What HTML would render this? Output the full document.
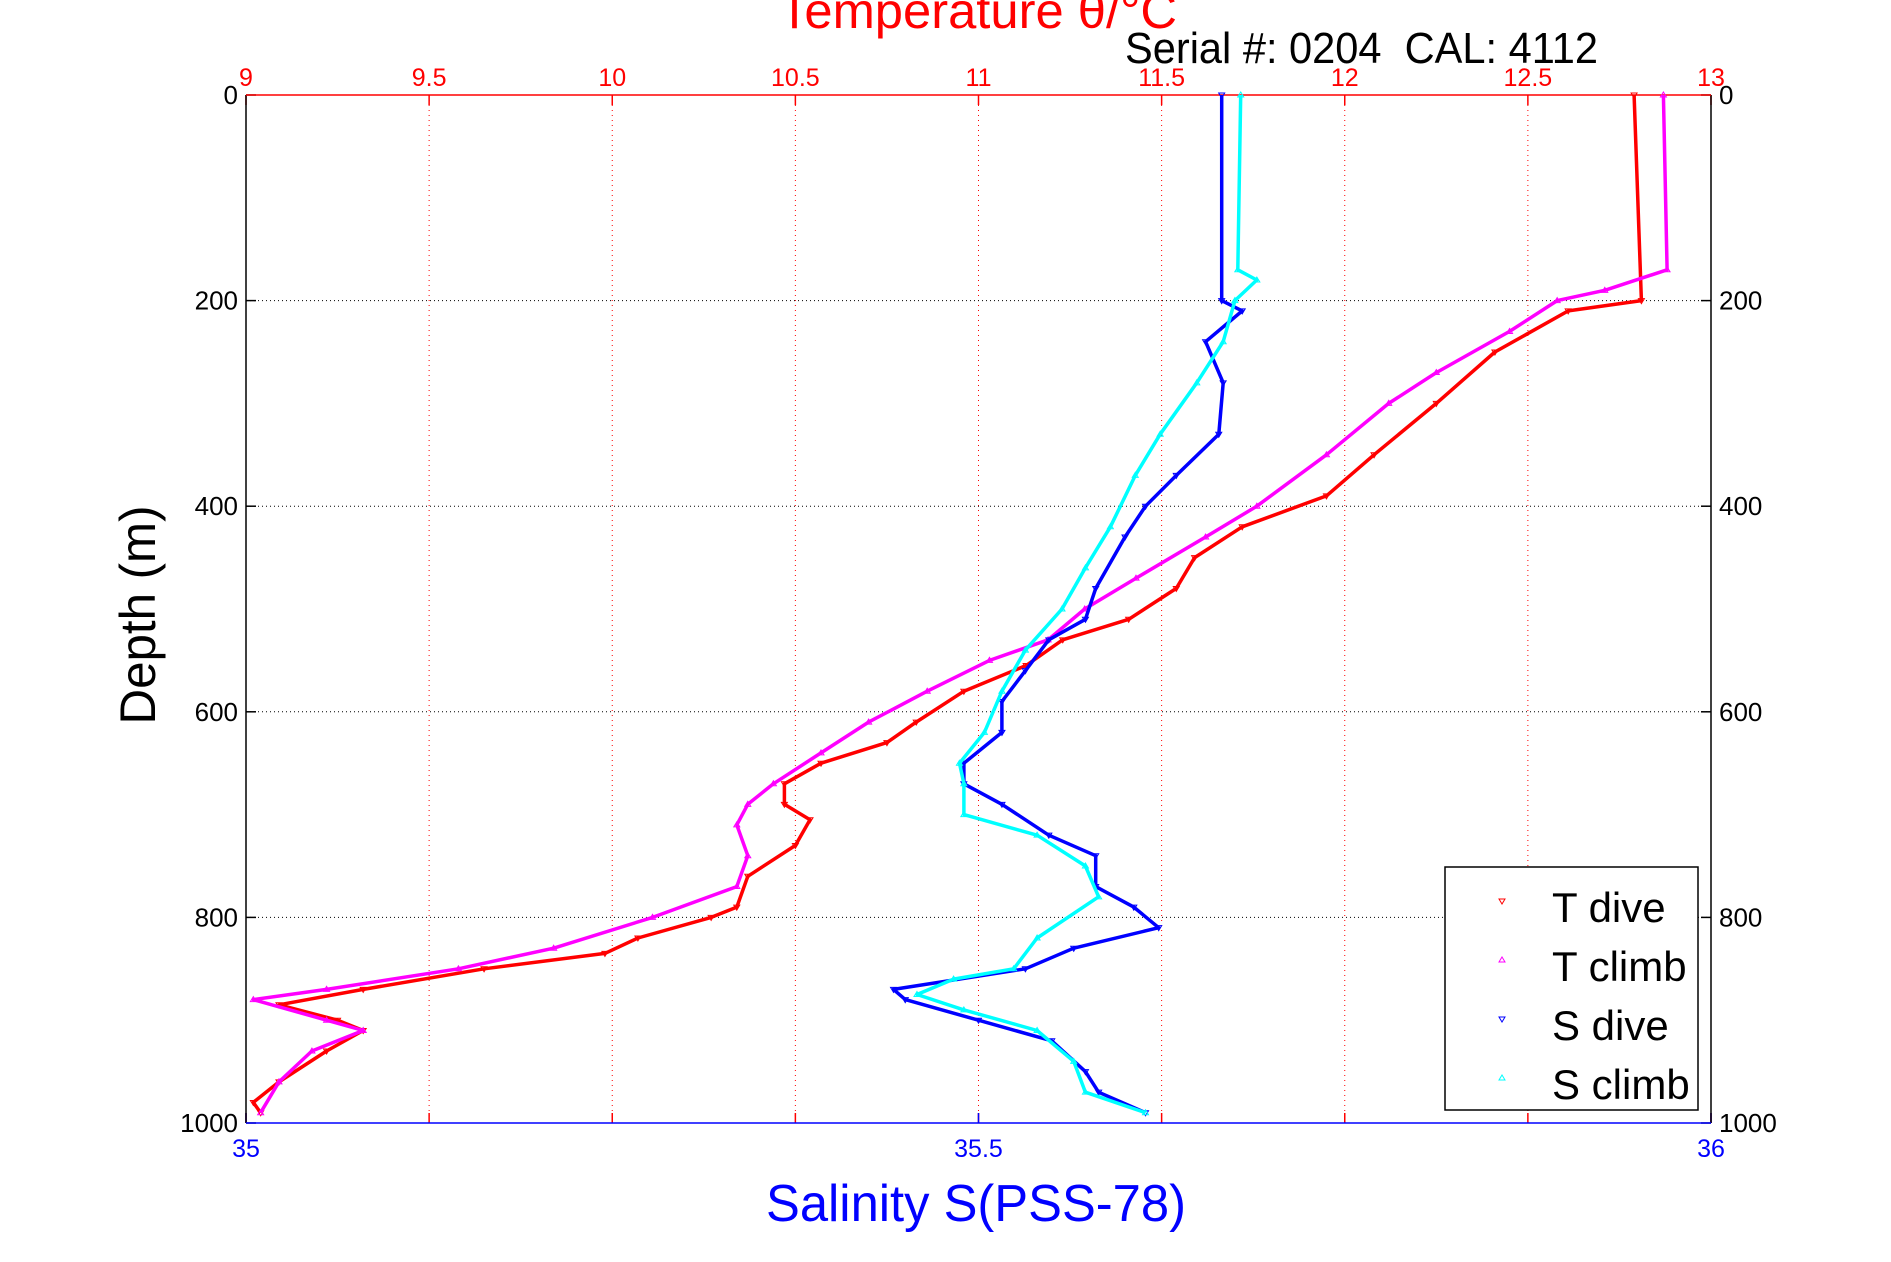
<!DOCTYPE html>
<html><head><meta charset="utf-8"><style>
html,body{margin:0;padding:0;background:#fff;}
svg{display:block;font-family:"Liberation Sans",sans-serif;}
</style></head><body>
<svg id="chart" width="1891" height="1262" viewBox="0 0 1891 1262">
<g id="grid"></g>
<g id="axes"></g>
<g id="series"></g>
<text x="779" y="28" font-size="50" fill="#ff0000" textLength="398" lengthAdjust="spacingAndGlyphs">Temperature θ/°C</text>
<text x="1125" y="63" font-size="44" fill="#000" textLength="473" lengthAdjust="spacingAndGlyphs" xml:space="preserve">Serial #: 0204  CAL: 4112</text>
<text x="0" y="0" transform="translate(155,615) rotate(-90)" text-anchor="middle" font-size="50" fill="#000" textLength="219" lengthAdjust="spacingAndGlyphs">Depth (m)</text>
<text x="766" y="1221" font-size="52" fill="#0000ff" textLength="420" lengthAdjust="spacingAndGlyphs">Salinity S(PSS-78)</text>
<g id="legend">
<rect x="1445" y="867" width="253" height="243" fill="#fff" stroke="#000" stroke-width="1.5"/>
</g>
</svg>
<script>
const tempTicks=[9,9.5,10,10.5,11,11.5,12,12.5,13];
const salTicks=[35,35.5,36];
const depthTicks=[0,200,400,600,800,1000];
const tDiveDepth=[0,200,210,250,300,350,390,420,450,480,510,530,555,580,610,630,650,670,690,705,730,760,790,800,820,835,850,870,885,900,910,930,960,980,990];
const tDiveVal=[12.79,12.81,12.61,12.41,12.25,12.08,11.95,11.72,11.59,11.54,11.41,11.23,11.13,10.96,10.83,10.75,10.57,10.47,10.47,10.54,10.50,10.37,10.34,10.27,10.07,9.98,9.65,9.32,9.09,9.25,9.32,9.22,9.09,9.02,9.04];
const tClimbDepth=[0,170,190,200,230,270,300,350,400,430,470,500,530,550,580,610,640,670,690,710,740,770,800,830,850,870,880,900,910,930,960,990];
const tClimbVal=[12.87,12.88,12.71,12.58,12.45,12.25,12.12,11.95,11.76,11.62,11.43,11.29,11.19,11.03,10.86,10.70,10.57,10.44,10.37,10.34,10.37,10.34,10.11,9.84,9.58,9.22,9.02,9.22,9.32,9.18,9.09,9.04];
const sDiveDepth=[0,200,210,240,280,330,370,400,430,480,510,530,560,590,620,650,670,690,720,740,770,790,810,830,850,870,880,900,920,950,970,990];
const sDiveVal=[35.666,35.666,35.68,35.655,35.667,35.664,35.635,35.614,35.60,35.58,35.573,35.548,35.532,35.516,35.516,35.49,35.49,35.516,35.548,35.58,35.58,35.606,35.623,35.565,35.532,35.442,35.45,35.5,35.55,35.573,35.582,35.614];
const sClimbDepth=[0,170,180,200,240,280,330,370,420,460,500,540,580,620,650,670,700,720,750,780,820,850,860,875,890,910,940,970,990];
const sClimbVal=[35.679,35.677,35.69,35.675,35.667,35.649,35.624,35.607,35.59,35.573,35.557,35.532,35.516,35.504,35.487,35.49,35.49,35.54,35.573,35.582,35.54,35.524,35.483,35.458,35.49,35.54,35.565,35.573,35.614];

const L=246,R=1711,T=95,B=1123;
const NS='http://www.w3.org/2000/svg';
function xT(v){return L+(v-9)/4*(R-L);}
function xS(v){return L+(v-35)*(R-L);}
function yD(d){return T+d/1000*(B-T);}
function mk(tag,attrs,parent){const e=document.createElementNS(NS,tag);for(const k in attrs)e.setAttribute(k,attrs[k]);parent.appendChild(e);return e;}
const grid=document.getElementById('grid'),axes=document.getElementById('axes'),ser=document.getElementById('series'),leg=document.getElementById('legend');

tempTicks.forEach(t=>{
  const x=xT(t);
  if(t>9&&t<13){const g=mk('line',{x1:x,x2:x,y1:T,y2:B,stroke:'#ff0000','stroke-width':1,'stroke-dasharray':'1,4'},grid);
  
  }
  mk('line',{x1:x,x2:x,y1:T,y2:T+10,stroke:'#ff0000','stroke-width':1.5},axes);
  mk('line',{x1:x,x2:x,y1:B,y2:B-10,stroke:'#ff0000','stroke-width':1.5},axes);
  const lb=mk('text',{x:x,y:T-9,'text-anchor':'middle','font-size':25,fill:'#ff0000'},axes);
  lb.textContent=t;
  
  
});
depthTicks.forEach(d=>{
  const y=yD(d);
  if(d>0&&d<1000){const g=mk('line',{x1:L,x2:R,y1:y,y2:y,stroke:'#000','stroke-width':1,'stroke-dasharray':'1,3'},grid);
  
  }
  mk('line',{x1:L,x2:L+10,y1:y,y2:y,stroke:'#000','stroke-width':1.5},axes);
  mk('line',{x1:R,x2:R-10,y1:y,y2:y,stroke:'#000','stroke-width':1.5},axes);
  const a=mk('text',{x:L-8,y:y+9,'text-anchor':'end','font-size':26,fill:'#000'},axes);a.textContent=d;
  
  
  const b=mk('text',{x:R+8,y:y+9,'text-anchor':'start','font-size':26,fill:'#000'},axes);b.textContent=d;
  
  
});
salTicks.forEach(s=>{
  const x=xS(s);
  mk('line',{x1:x,x2:x,y1:B,y2:B-10,stroke:'#0000ff','stroke-width':1.5},axes);
  const lb=mk('text',{x:x,y:B+34,'text-anchor':'middle','font-size':25,fill:'#0000ff'},axes);lb.textContent=s;
  
  
});
mk('line',{x1:L,x2:L,y1:T,y2:B,stroke:'#000','stroke-width':1.5},axes);
mk('line',{x1:R,x2:R,y1:T,y2:B,stroke:'#000','stroke-width':1.5},axes);
mk('line',{x1:L,x2:R,y1:T,y2:T,stroke:'#ff0000','stroke-width':1.5},axes);
mk('line',{x1:L,x2:R,y1:B,y2:B,stroke:'#0000ff','stroke-width':1.5},axes);

function tri(x,y,up,col,parent){
  const p=up?`${x-3},${y+2} ${x+3},${y+2} ${x},${y-3}`:`${x-3},${y-2} ${x+3},${y-2} ${x},${y+3}`;
  return mk('polygon',{points:p,fill:'none',stroke:col,'stroke-width':1},parent);
}
function series(depths,vals,xf,col,up,name){
  const g=mk('g',{},ser);
  
  
  const pts=depths.map((d,i)=>xf(vals[i]).toFixed(1)+','+yD(d).toFixed(1)).join(' ');
  mk('polyline',{points:pts,fill:'none',stroke:col,'stroke-width':3.5,'stroke-linejoin':'round'},g);
  depths.forEach((d,i)=>{const m=tri(xf(vals[i]),yD(d),up,col,g);
    
    });
}
series(tDiveDepth,tDiveVal,xT,'#ff0000',false,'t-dive-series');
series(tClimbDepth,tClimbVal,xT,'#ff00ff',true,'t-climb-series');
series(sDiveDepth,sDiveVal,xS,'#0000ff',false,'s-dive-series');
series(sClimbDepth,sClimbVal,xS,'#00ffff',true,'s-climb-series');

const legNames=['T dive','T climb','S dive','S climb'];
const legCols=['#ff0000','#ff00ff','#0000ff','#00ffff'];
legNames.forEach((n,i)=>{
  const y=922+i*59;
  const m=tri(1502,y-21,i%2===1,legCols[i],leg);
  
  
  const t=mk('text',{x:1552,y:y,'font-size':42,fill:'#000'},leg);t.textContent=n;
  
  
});
</script>
</body></html>
